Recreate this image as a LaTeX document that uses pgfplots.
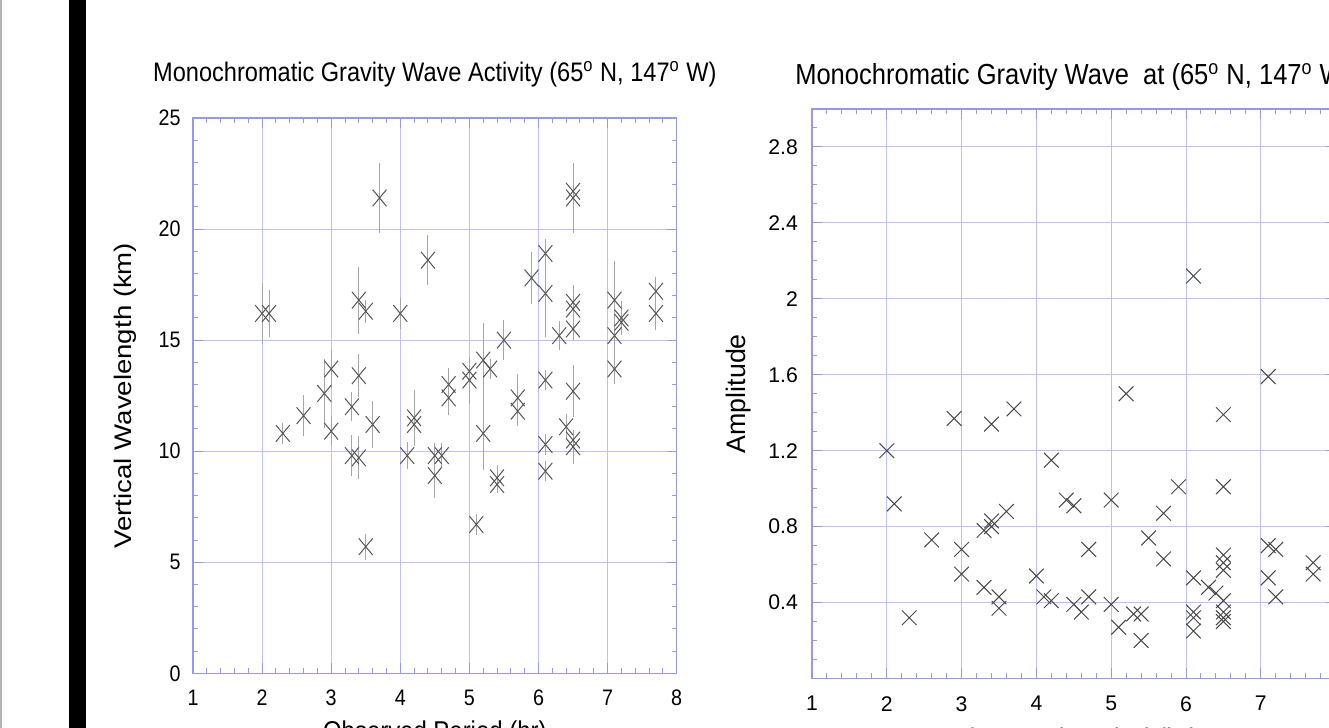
\documentclass[border=0pt]{standalone}
\usepackage{fontspec}
\setmainfont{Liberation Sans}
\setsansfont{Liberation Sans}
\newfontfamily\condfont{Liberation Sans}[FakeStretch=0.88]
\newfontfamily\widefont{Liberation Sans}[FakeStretch=1.15]
\usepackage{pgfplots}
\pgfplotsset{compat=1.18}
\usepackage{pgfplotstable}

\definecolor{gridblue}{RGB}{190,190,250}
\definecolor{axisblue}{RGB}{150,150,245}
\definecolor{markgray}{RGB}{85,85,85}
\definecolor{errgray}{RGB}{165,165,165}

% period (hr), vertical wavelength (km), error
\pgfplotstableread{
x y e
2.0 16.2 1.2
2.1 16.2 0.9
2.3 10.8 0.3
2.6 11.6 0.75
2.9 12.6 1.4
3.0 13.7 0.7
3.0 10.9 0.5
3.3 12.0 0.5
3.3 9.8 0.75
3.4 16.8 1.35
3.4 13.4 0.8
3.4 9.7 0.8
3.5 16.3 0.35
3.5 5.7 0.43
3.6 11.2 0.9
3.7 21.4 1.4
4.0 16.2 0.55
4.1 9.8 0.43
4.2 11.5 1.1
4.2 11.2 0.4
4.4 18.6 0.95
4.5 9.8 0.4
4.5 8.9 0.85
4.6 9.8 0.4
4.7 13.0 0.6
4.7 12.4 0.6
5.0 13.6 0.5
5.0 13.2 0.9
5.1 6.7 0.3
5.2 14.1 1.5
5.2 10.8 1.5
5.3 13.7 0.3
5.4 8.8 0.4
5.4 8.5 0.2
5.5 15.0 0.73
5.7 12.4 0.9
5.7 11.8 0.5
5.9 17.8 1.0
6.1 18.9 0.5
6.1 17.1 1.8
6.1 13.2 0.3
6.1 10.3 0.3
6.1 9.1 0.3
6.3 15.2 0.5
6.4 11.1 0.4
6.5 21.7 1.1
6.5 21.4 1.4
6.5 16.7 0.6
6.5 16.4 0.6
6.5 15.5 0.35
6.5 12.7 1.0
6.5 10.5 0.3
6.5 10.2 0.6
7.1 16.8 1.6
7.1 15.2 0.7
7.1 13.7 0.5
7.2 16.0 0.6
7.2 15.8 0.4
7.7 17.2 0.5
7.7 16.2 0.6
}\wavelength

% period (hr), amplitude
\pgfplotstableread{
x y
2.0 1.20
2.1 0.92
2.3 0.32
2.6 0.73
2.9 1.37
3.0 0.68
3.0 0.55
3.3 0.48
3.3 0.78
3.4 0.83
3.4 0.80
3.4 1.34
3.5 0.43
3.5 0.37
3.6 0.88
3.7 1.42
4.0 0.54
4.1 0.43
4.2 0.41
4.2 1.15
4.4 0.94
4.5 0.91
4.5 0.39
4.6 0.35
4.7 0.68
4.7 0.43
5.0 0.94
5.0 0.39
5.1 0.27
5.2 1.50
5.3 0.34
5.4 0.34
5.4 0.20
5.5 0.74
5.7 0.87
5.7 0.63
5.9 1.01
6.1 2.12
6.1 0.53
6.1 0.35
6.1 0.32
6.1 0.25
6.3 0.48
6.4 0.45
6.5 1.39
6.5 1.01
6.5 0.65
6.5 0.61
6.5 0.57
6.5 0.41
6.5 0.35
6.5 0.32
6.5 0.30
7.1 1.59
7.1 0.70
7.2 0.68
7.1 0.53
7.2 0.43
7.7 0.61
7.7 0.55
}\amplitude

\pgfplotsset{
  wave/.style={
    scale only axis,
    axis line style={axisblue, line width=0.6pt},
    grid=major,
    major grid style={gridblue, line width=0.5pt},
    tick style={axisblue, line width=0.5pt},
    tick align=inside,
    major tick length=5pt,
    minor tick length=2.5pt,
    /pgf/number format/assume math mode=true,
    every axis title shift=0pt,
    xmin=1, xmax=8,
    xtick={1,...,8},
    minor x tick num=4,
  },
}

\begin{document}
\begin{tikzpicture}
\path[use as bounding box, clip] (0pt,0pt) rectangle (664.5pt,364pt);
\draw[gray!60, line width=0.8pt] (0.4pt,0pt) -- (0.4pt,364pt);
\fill[black] (34.5pt,0pt) rectangle (43pt,364pt);

\begin{axis}[wave,
  at={(96.5pt,27.35pt)}, anchor=south west,
  width=241.85pt, height=277.65pt,
  ymin=0, ymax=25,
  ytick={0,5,...,25},
  minor y tick num=4,
  xticklabel style={font=\condfont\fontsize{11.2}{13}\selectfont, inner sep=0pt, yshift=-8pt},
  yticklabel style={font=\condfont\fontsize{11.2}{13}\selectfont, inner sep=0pt, xshift=-6pt},
  title={Monochromatic Gravity Wave Activity (65\textsuperscript{o} N, 147\textsuperscript{o} W)},
  title style={font=\condfont\fontsize{13.4}{15}\selectfont, at={(0.5,1)}, anchor=center, yshift=22pt, inner sep=0pt},
  ylabel={Vertical Wavelength (km)},
  ylabel style={font=\widefont\fontsize{12}{14}\selectfont, at={(axis description cs:-0.1406,0.5)}, anchor=center, inner sep=0pt},
  xlabel={Observed Period (hr)},
  xlabel style={font=\condfont\fontsize{13.6}{16}\selectfont, at={(axis description cs:0.5,0)}, anchor=north, yshift=-23.3pt, inner sep=0pt},
]
\addplot[only marks, mark=x, mark size=4.9pt, color=markgray, line width=0.5pt,
  mark options={yscale=1.2},
  error bars/.cd, y dir=both, y explicit,
  error bar style={errgray, line width=0.5pt},
  error mark options={errgray, mark size=1.8pt, line width=0.5pt}]
  table[x=x, y=y, y error=e] {\wavelength};
\end{axis}

\begin{axis}[wave,
  at={(406pt,24.75pt)}, anchor=south west,
  width=261.8pt, height=284.75pt,
  ymin=0, ymax=3,
  ytick={0.4,0.8,1.2,1.6,2,2.4,2.8},
  minor ytick={0.1,0.2,0.3,0.5,0.6,0.7,0.9,1.0,1.1,1.3,1.4,1.5,1.7,1.8,1.9,2.1,2.2,2.3,2.5,2.6,2.7,2.9},
  xticklabel style={font=\fontsize{10.6}{13}\selectfont, inner sep=0pt, yshift=-8.75pt},
  yticklabel style={font=\fontsize{10.6}{13}\selectfont, inner sep=0pt, xshift=-6.9pt},
  title={Monochromatic Gravity Wave\ \ at (65\textsuperscript{o} N, 147\textsuperscript{o} W)},
  title style={font=\condfont\fontsize{14.5}{17}\selectfont, at={(0.5,1)}, anchor=center, yshift=16pt, inner sep=0pt},
  ylabel={Amplitude},
  ylabel style={font=\fontsize{13.4}{16}\selectfont, at={(axis description cs:-0.1394,0.5)}, anchor=center, inner sep=0pt},
  xlabel={Observed Period (hr)},
  xlabel style={font=\fontsize{13.4}{16}\selectfont, at={(axis description cs:0.5,0)}, anchor=north, yshift=-24.5pt, inner sep=0pt},
]
\addplot[only marks, mark=x, mark size=5.2pt, color=markgray!85!black, line width=0.5pt]
  table[x=x, y=y] {\amplitude};
\end{axis}
\end{tikzpicture}
\end{document}
